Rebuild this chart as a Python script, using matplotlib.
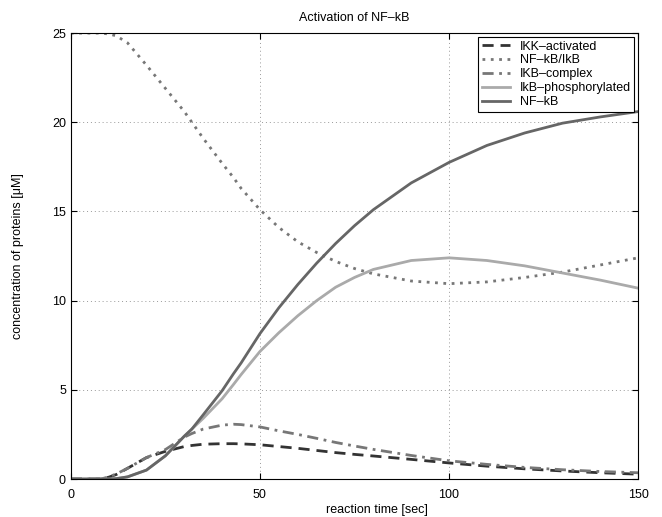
import matplotlib
matplotlib.use('Agg')
import matplotlib.pyplot as plt

# values (time in sec, concentrations in uM)
t = [0, 5, 8, 10, 12, 15, 20, 25, 30, 32, 35, 40, 43, 45, 50, 55, 60, 65, 70, 75,
     80, 90, 100, 110, 120, 130, 140, 150]

ikk_activated = [0, 0, 0, 0.1, 0.25, 0.6, 1.2, 1.55, 1.82, 1.88, 1.95, 1.98, 1.98, 1.97, 1.92,
                 1.82, 1.72, 1.6, 1.48, 1.38, 1.29, 1.1, 0.9, 0.72, 0.57, 0.45, 0.35, 0.27]
nfkb_ikb = [25, 25, 25, 24.95, 24.85, 24.45, 23.2, 21.9, 20.6, 20.0, 19.1, 17.7, 16.9, 16.3,
            15.1, 14.1, 13.3, 12.7, 12.2, 11.8, 11.5, 11.1, 10.95, 11.05, 11.3, 11.6, 12.0, 12.4]
ikb_complex = [0, 0, 0, 0.12, 0.28, 0.6, 1.2, 1.65, 2.35, 2.55, 2.8, 3.02, 3.07, 3.05, 2.92,
               2.7, 2.5, 2.28, 2.05, 1.85, 1.66, 1.32, 1.02, 0.82, 0.65, 0.52, 0.42, 0.35]
ikb_phos = [0, 0, 0, 0, 0.02, 0.12, 0.5, 1.3, 2.4, 2.8, 3.4, 4.5, 5.3, 5.85, 7.15, 8.2, 9.15,
            10.0, 10.75, 11.3, 11.75, 12.25, 12.4, 12.25, 11.95, 11.55, 11.15, 10.7]
nfkb = [0, 0, 0, 0, 0.02, 0.12, 0.5, 1.3, 2.4, 2.8, 3.6, 4.95, 5.9, 6.5, 8.15, 9.6, 10.9,
        12.1, 13.2, 14.2, 15.1, 16.6, 17.75, 18.7, 19.4, 19.95, 20.3, 20.6]

plt.rcParams['font.family'] = ['Liberation Sans', 'DejaVu Sans']
plt.rcParams['font.size'] = 9

fig = plt.figure(figsize=(6.62, 5.17), dpi=100)
ax = fig.add_axes([0.107, 0.0735, 0.857, 0.8625])

ax.plot(t, ikk_activated, color='#333333', linestyle=(0, (4, 2.5)), lw=2, label='IKK–activated')
ax.plot(t, nfkb_ikb, color='#777777', linestyle=(0, (1, 2)), lw=2, label='NF–kB/IkB')
ax.plot(t, ikb_complex, color='#777777', linestyle=(0, (4, 2, 1, 2)), lw=2, label='IKB–complex')
ax.plot(t, ikb_phos, color='#aaaaaa', lw=2, label='IkB–phosphorylated')
ax.plot(t, nfkb, color='#666666', lw=2, label='NF–kB')

ax.set_xlim(0, 150)
ax.set_ylim(0, 25)
ax.set_xticks([0, 50, 100, 150])
ax.set_yticks([0, 5, 10, 15, 20, 25])
ax.grid(True, linestyle=(0, (1, 3)), color='#999999', lw=0.7)
ax.tick_params(direction='in', top=True, right=True, length=4)
ax.tick_params(axis='x', pad=7)
for s in ax.spines.values():
    s.set_linewidth(0.8)

ax.set_title('Activation of NF–kB', fontsize=9, pad=9)
ax.set_xlabel('reaction time [sec]')
ax.xaxis.set_label_coords(0.54, -0.057)
ax.set_ylabel('concentration of proteins [μM]')
ax.yaxis.set_label_coords(-0.083, 0.5)

leg = ax.legend(loc='upper right', fancybox=False, framealpha=1, edgecolor='black',
                borderaxespad=0.3, handlelength=2.2, labelspacing=0.15, borderpad=0.3)
leg.get_frame().set_linewidth(0.8)

fig.savefig('out.png', dpi=100)
